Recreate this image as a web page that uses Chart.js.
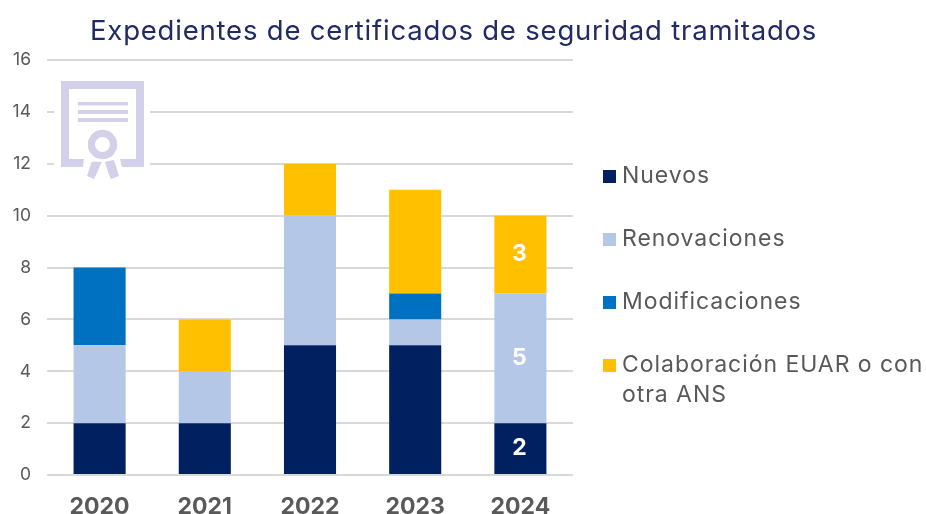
<!DOCTYPE html>
<html><head><meta charset="utf-8">
<script src="https://cdn.jsdelivr.net/npm/chart.js@4/dist/chart.umd.min.js"></script>
<style>
html,body{margin:0;padding:0;background:#fff;overflow:hidden}
#wrap{position:relative;width:926px;height:514px;font-family:Inter,"Open Sans",sans-serif}
canvas{position:absolute;left:0;top:0}
#title{position:absolute;left:90px;top:13px;font-size:27.5px;color:#1F2A66;white-space:nowrap;letter-spacing:.8px}
#legend{position:absolute;left:603px;top:0;width:323px;color:#595959;font-size:23px;line-height:30px;letter-spacing:.95px}
.li{position:absolute;left:0;width:323px;white-space:nowrap}
.sw{position:absolute;left:0;top:10px;width:13px;height:13px}
.tx{position:absolute;left:19px}
#icon{position:absolute;left:54px;top:76px}
</style></head><body>
<div id="wrap">
<canvas id="c" width="926" height="514"></canvas>
<svg id="icon" width="96" height="110" viewBox="54 76 96 110">
<rect x="54" y="76" width="96" height="104" fill="#fff"/>
<path fill="#D3D1EA" d="M61 81H144V167H122L120 159H136V89H69V159H84L83 167H61Z"/>
<path fill="#D3D1EA" d="M78 102H128V105.500H78ZM78 110H128V114H78ZM78 118H128V122H78Z"/>
<circle cx="102.500" cy="144.500" r="11" fill="none" stroke="#D3D1EA" stroke-width="7"/>
<circle cx="102.500" cy="144.500" r="13.500" fill="none" stroke="#D3D1EA" stroke-width="2.500" stroke-dasharray="6 2.480"/>
<path fill="#D3D1EA" d="M91.700 161.700L101.700 161.700 97 173 94 179 87 176ZM105 161.700L114 160 119 176 111 179 108 172Z"/>
</svg>
<div id="title"></div>
<div id="legend"></div>
</div>
<script>
const titleText = "Expedientes de certificados de seguridad tramitados";
const categories = ["2020","2021","2022","2023","2024"];
const nuevos = [2,2,5,5,2];
const renovaciones = [3,2,5,1,5];
const modificaciones = [3,0,0,1,0];
const colaboracion = [0,2,2,4,3];
const seriesNames = ["Nuevos","Renovaciones","Modificaciones","Colaboración EUAR o con otra ANS"];
const seriesColors = ["#002060","#B4C7E7","#0070C0","#FFC000"];
const labelledCategory = "2024";
const legendTops = [160,223,286,349];
const fontFamily = 'Inter,"Open Sans",sans-serif';

document.getElementById("title").textContent = titleText;
const lg = document.getElementById("legend");
seriesNames.forEach((n,i)=>{
  const d = document.createElement("div"); d.className="li"; d.style.top=legendTops[i]+"px";
  const s = document.createElement("div"); s.className="sw"; s.style.background=seriesColors[i];
  const t = document.createElement("div"); t.className="tx"; t.style.width="304px"; t.style.whiteSpace="normal"; t.textContent=n;
  d.append(s,t); lg.append(d);
});

const valueLabels = {
  id:"valueLabels",
  afterDatasetsDraw(chart){
    const ctx = chart.ctx, idx = categories.indexOf(labelledCategory);
    ctx.save();
    ctx.fillStyle="#fff"; ctx.font="700 23px "+fontFamily;
    ctx.textAlign="center"; ctx.textBaseline="middle";
    chart.data.datasets.forEach((ds,i)=>{
      const v = ds.data[idx]; if(!v) return;
      const el = chart.getDatasetMeta(i).data[idx];
      ctx.fillText(String(v), el.x-1, (el.y+el.base)/2);
    });
    ctx.restore();
  }
};

new Chart(document.getElementById("c"),{
  type:"bar",
  data:{labels:categories,datasets:[nuevos,renovaciones,modificaciones,colaboracion].map((d,i)=>({
    label:seriesNames[i],data:d,backgroundColor:seriesColors[i],borderWidth:0,barPercentage:.495,categoryPercentage:1
  }))},
  plugins:[valueLabels],
  options:{
    responsive:false,animation:false,
    layout:{padding:{left:0,top:60,right:353,bottom:0}},
    plugins:{legend:{display:false},title:{display:false},tooltip:{enabled:false}},
    scales:{
      x:{stacked:true,
        grid:{display:false},border:{display:false},
        ticks:{color:"#595959",font:{family:fontFamily,size:23,weight:"700"},padding:10,maxRotation:0},
        afterFit(s){s.height=39;}},
      y:{stacked:true,min:0,max:16,
        grid:{color:"#D9D9D9",lineWidth:2,drawTicks:false},border:{display:false},
        ticks:{stepSize:2,color:"#595959",font:{family:fontFamily,size:17.5},padding:16},
        afterFit(s){s.width=47;}}
    }
  }
});
</script>
</body></html>
